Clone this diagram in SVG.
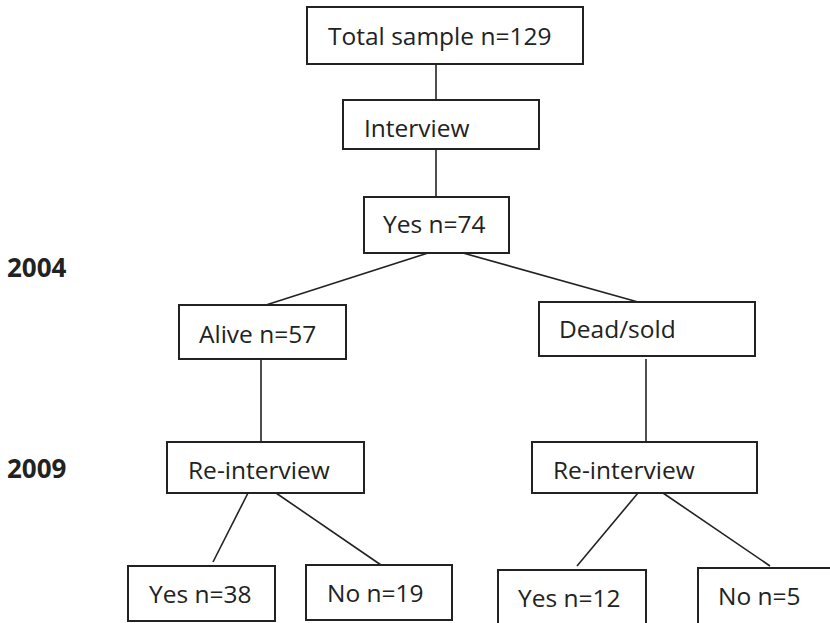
<svg xmlns="http://www.w3.org/2000/svg" width="830" height="623" viewBox="0 0 830 623">
<style>
.box{fill:#fff;stroke:#222;stroke-width:2}
.lbl{font-family:"Open Sans","Liberation Sans",sans-serif;font-size:24.5px;fill:#222}
.yr{font-family:"Open Sans","Liberation Sans",sans-serif;font-size:26px;font-weight:bold;fill:#222}
.conn line{stroke:#222;stroke-width:1.6}
</style>
<rect width="830" height="623" fill="#fff"/>
<g id="connectors" class="conn">
<line x1="436" y1="64" x2="436" y2="100"/>
<line x1="436" y1="149" x2="436" y2="197"/>
<line x1="428" y1="253" x2="266" y2="305"/>
<line x1="463" y1="253" x2="638" y2="302"/>
<line x1="261" y1="359" x2="261" y2="442"/>
<line x1="646" y1="359" x2="646" y2="442"/>
<line x1="248" y1="493" x2="213" y2="562"/>
<line x1="276" y1="493" x2="381" y2="565"/>
<line x1="638" y1="493" x2="577" y2="566"/>
<line x1="663" y1="493" x2="770" y2="566"/>
</g>
<g id="year2004"><text class="yr" x="7" y="277">2004</text></g>
<g id="year2009"><text class="yr" x="7" y="478">2009</text></g>
<g id="total"><rect class="box" x="307" y="7" width="276" height="57"/><text class="lbl" x="328" y="45">Total sample n=129</text></g>
<g id="interview"><rect class="box" x="343" y="100" width="196" height="49"/><text class="lbl" x="364" y="137">Interview</text></g>
<g id="yes74"><rect class="box" x="364" y="197" width="145" height="56"/><text class="lbl" x="383" y="233">Yes n=74</text></g>
<g id="alive"><rect class="box" x="179" y="305" width="167" height="54"/><text class="lbl" x="199" y="343">Alive n=57</text></g>
<g id="dead"><rect class="box" x="539" y="302" width="216" height="54"/><text class="lbl" x="559" y="338">Dead/sold</text></g>
<g id="reinterviewL"><rect class="box" x="167" y="442" width="197" height="51"/><text class="lbl" x="188" y="479">Re-interview</text></g>
<g id="reinterviewR"><rect class="box" x="532" y="442" width="225" height="51"/><text class="lbl" x="553" y="479">Re-interview</text></g>
<g id="yes38"><rect class="box" x="128" y="566" width="147" height="55"/><text class="lbl" x="149" y="603">Yes n=38</text></g>
<g id="no19"><rect class="box" x="306" y="565" width="146" height="55"/><text class="lbl" x="327" y="602">No n=19</text></g>
<g id="yes12"><rect class="box" x="498" y="570" width="148" height="70"/><text class="lbl" x="518" y="607">Yes n=12</text></g>
<g id="no5"><rect class="box" x="698" y="568" width="150" height="70"/><text class="lbl" x="718" y="605">No n=5</text></g>
</svg>
